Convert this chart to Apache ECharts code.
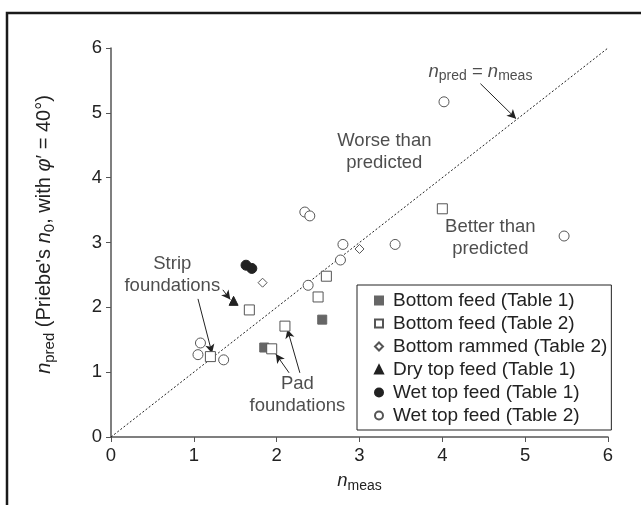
<!DOCTYPE html>
<html>
<head>
<meta charset="utf-8">
<title>n_pred vs n_meas</title>
<script src="https://cdn.jsdelivr.net/npm/echarts@6/dist/echarts.min.js"></script>
<style>
  html, body { margin: 0; padding: 0; background: #fff; }
  #main { width: 641px; height: 505px; }
</style>
</head>
<body>
<div id="main"></div>
<script>
// values, [n_meas, n_pred]
var bottomFeedT1 = [[1.85, 1.38], [2.55, 1.81]];
var bottomFeedT2 = [[4.0, 3.52], [2.60, 2.48], [2.50, 2.16], [1.67, 1.96], [2.10, 1.71], [1.94, 1.36], [1.20, 1.24]];
var bottomRammedT2 = [[1.83, 2.38], [3.0, 2.90]];
var dryTopFeedT1 = [[1.48, 2.10]];
var wetTopFeedT1 = [[1.63, 2.65], [1.70, 2.60]];
var wetTopFeedT2 = [[4.02, 5.17], [2.34, 3.47], [2.40, 3.41], [2.80, 2.97], [3.43, 2.97], [5.47, 3.10],
                    [2.77, 2.73], [2.38, 2.34], [1.08, 1.45], [1.05, 1.27], [1.36, 1.19]];
var equalLine = [[0, 0], [6, 6]];
var axisTicks = [0, 1, 2, 3, 4, 5, 6];

// annotation text and arrows (data coords)
var noteText = ['{i|n}{s|pred} = {i|n}{s|meas}', 'Worse than\npredicted', 'Better than\npredicted', 'Strip\nfoundations', 'Pad\nfoundations'];
var notePos = [[4.46, 5.63], [3.30, 4.40], [4.58, 3.07], [0.74, 2.50], [2.25, 0.65]];
var arrowFrom = [[4.46, 5.45], [1.35, 2.27], [1.05, 2.13], [2.15, 0.99], [2.28, 0.99]];
var arrowTo   = [[4.89, 4.91], [1.44, 2.12], [1.22, 1.29], [1.99, 1.28], [2.13, 1.66]];

var txt = '#222';
var fs = 18.5;
var chart = echarts.init(document.getElementById('main'));

var notes = [];
for (var i = 0; i < noteText.length; i++) {
  notes.push([notePos[i][0], notePos[i][1], noteText[i]]);
}
var arrows = [];
for (var j = 0; j < arrowFrom.length; j++) {
  arrows.push([{ coord: arrowFrom[j] }, { coord: arrowTo[j] }]);
}

function richSub(size) {
  return {
    i: { fontStyle: 'italic', fontSize: size, color: txt, fontFamily: 'Liberation Sans' },
    s: { fontSize: Math.round(size * 0.76), color: txt, verticalAlign: 'bottom', padding: [10, 0, 0, 0], fontFamily: 'Liberation Sans' }
  };
}

function pts(name, data, symbol, size, fill, border) {
  return {
    name: name,
    type: 'scatter',
    data: data,
    symbol: symbol,
    symbolSize: size,
    itemStyle: { color: fill, borderColor: border, borderWidth: 1, opacity: 1 },
    z: 5
  };
}

chart.setOption({
  animation: false,
  textStyle: { fontFamily: 'Liberation Sans, Arial, sans-serif', color: txt },
  graphic: [
    { type: 'polyline', shape: { points: [[7, 505], [7, 13], [641, 13]] },
      style: { stroke: '#1a1a1a', lineWidth: 2.5, fill: null }, silent: true }
  ],
  grid: { left: 111, right: 33, top: 48, bottom: 68 },
  xAxis: {
    type: 'value', min: 0, max: 6, interval: 1,
    name: '{i|n}{s|meas}', nameLocation: 'middle', nameGap: 32,
    nameTextStyle: { rich: richSub(fs) },
    axisLine: { onZero: false, lineStyle: { color: '#555', width: 1.5 } },
    axisTick: { length: 5, lineStyle: { color: '#555' } },
    axisLabel: { fontSize: fs, color: txt, margin: 9,
      formatter: function (v) { return axisTicks.indexOf(v) >= 0 ? String(v) : ''; } },
    splitLine: { show: false }
  },
  yAxis: {
    type: 'value', min: 0, max: 6, interval: 1,
    name: "{i|n}{s|pred} (Priebe's {i|n}{s|0}, with {i|\u03c6}\u2032 = 40\u00b0)",
    nameLocation: 'middle', nameGap: 54,
    nameTextStyle: { fontSize: 20, color: txt, rich: richSub(20), padding: [0, 0, 0, 16] },
    axisLine: { show: true, onZero: false, lineStyle: { color: '#555', width: 1.5 } },
    axisTick: { show: true, length: 5, lineStyle: { color: '#555' } },
    axisLabel: { fontSize: fs, color: txt, margin: 9 },
    splitLine: { show: false }
  },
  legend: {
    orient: 'vertical',
    left: 357, top: 285,
    padding: [6, 4, 5, 17],
    backgroundColor: '#fff',
    borderColor: '#222', borderWidth: 1,
    itemWidth: 8, itemHeight: 8, itemGap: 4,
    textStyle: { fontSize: 19, color: txt, fontFamily: 'Liberation Sans', padding: [0, 0, 0, 5] },
    data: ['Bottom feed (Table 1)', 'Bottom feed (Table 2)', 'Bottom rammed (Table 2)',
           'Dry top feed (Table 1)', 'Wet top feed (Table 1)', 'Wet top feed (Table 2)']
  },
  series: [
    {
      name: 'equal', type: 'line', data: equalLine, symbol: 'none', silent: true,
      lineStyle: { color: '#222', width: 1, type: [2, 2] }, z: 2
    },
    {
      name: 'notes', type: 'scatter', data: notes, symbolSize: 0, silent: true,
      label: {
        show: true, position: 'inside', fontSize: fs, lineHeight: 22, color: txt, align: 'center',
        formatter: function (p) { return p.data[2]; },
        rich: richSub(fs)
      },
      markLine: {
        silent: true, symbol: ['none', 'arrow'], symbolSize: [7, 9],
        label: { show: false },
        lineStyle: { color: '#222', width: 1, type: 'solid' },
        data: arrows
      },
      z: 3
    },
    pts('Bottom feed (Table 1)', bottomFeedT1, 'rect', 9, '#666', '#666'),
    pts('Bottom feed (Table 2)', bottomFeedT2, 'rect', 10, '#fff', '#555'),
    pts('Bottom rammed (Table 2)', bottomRammedT2, 'diamond', 9, '#fff', '#555'),
    pts('Dry top feed (Table 1)', dryTopFeedT1, 'triangle', 9, '#222', '#222'),
    pts('Wet top feed (Table 1)', wetTopFeedT1, 'circle', 10, '#222', '#222'),
    pts('Wet top feed (Table 2)', wetTopFeedT2, 'circle', 10, '#fff', '#555')
  ]
});
</script>
</body>
</html>
